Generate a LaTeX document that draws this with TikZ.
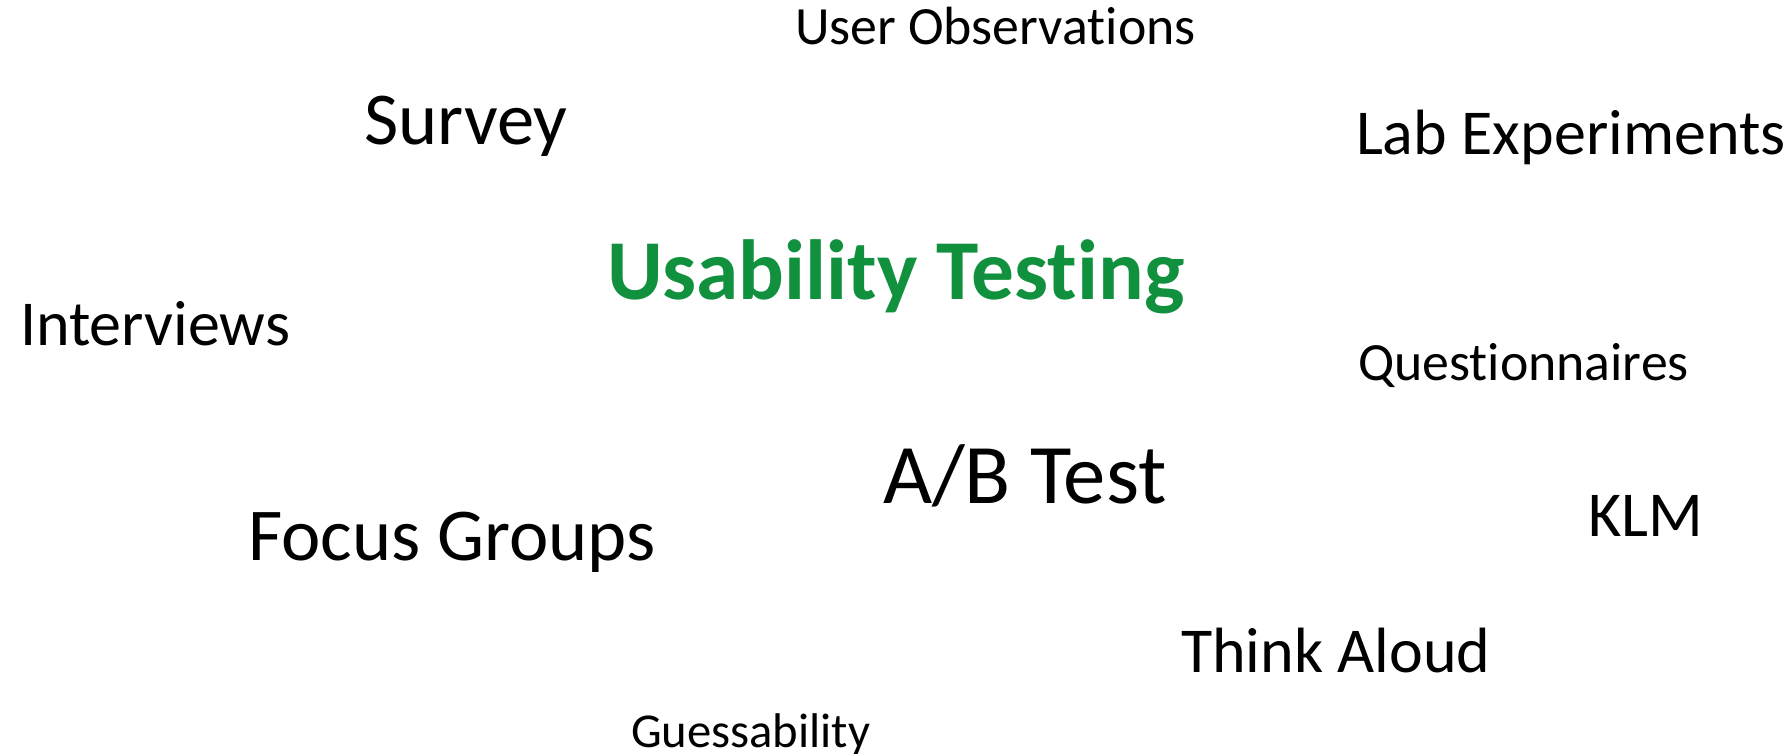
\documentclass[tikz,border=0pt]{standalone}
\usepackage{fontspec}
\setmainfont{Carlito}[Ligatures={NoCommon}]
\definecolor{titlegreen}{RGB}{17,145,62}
\begin{document}
\begin{tikzpicture}[x=1pt,y=-1pt,
  word/.style={anchor=base west, inner sep=0pt, outer sep=0pt, text=black},
  sz18/.style={font=\fontsize{48.7}{56}\selectfont},
  sz20/.style={font=\fontsize{53.8}{62}\selectfont},
  sz24/.style={font=\fontsize{64}{74}\selectfont},
  sz28/.style={font=\fontsize{74.6}{86}\selectfont},
  sz32/.style={font=\fontsize{84.8}{98}\selectfont},
  title/.style={font=\fontsize{85.3}{98}\selectfont\bfseries, text=titlegreen}]
\useasboundingbox (0,0) rectangle (1792,754);
\node[word, sz20] (userobs) at (795,45) {User Observations};
\node[word, sz28] (survey) at (364,145) {Survey};
\node[word, sz24] (lab) at (1356,155) {Lab Experiments};
\node[word, title] (usability) at (607,300) {Usability Testing};
\node[word, sz24] (interviews) at (20,345) {Interviews};
\node[word, sz20] (quest) at (1358,380) {Questionnaires};
\node[word, sz32] (abtest) at (883,503) {A/B Test};
\node[word, sz28] (focus) at (248,560) {Focus Groups};
\node[word, sz24] (klm) at (1588,536) {KLM};
\node[word, sz24] (think) at (1181,672) {Think Aloud};
\node[word, sz18] (guess) at (631,747) {Guessability};
\end{tikzpicture}
\end{document}
